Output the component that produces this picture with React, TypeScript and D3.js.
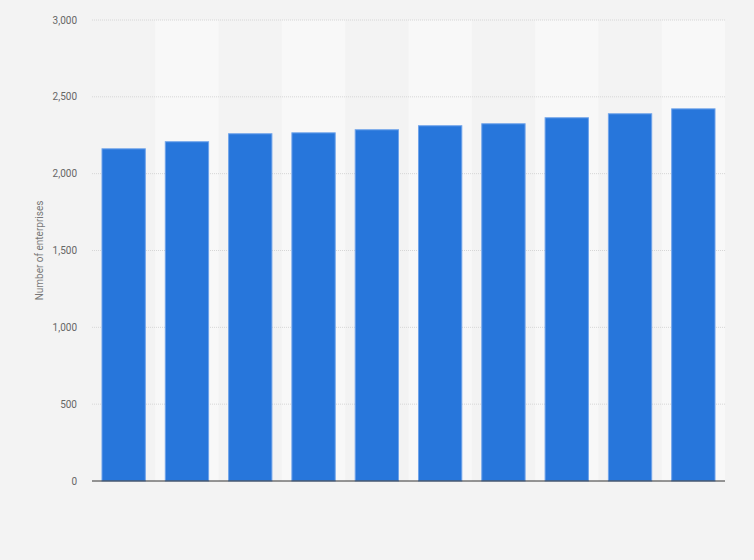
import { useEffect, useRef } from "react";
import * as d3 from "d3";

const WIDTH = 754;
const HEIGHT = 560;
const MARGIN = { top: 20, right: 29, bottom: 79, left: 92 };

// Number of enterprises per year (years not labelled in the source)
const years = ["2011", "2012", "2013", "2014", "2015", "2016", "2017", "2018", "2019", "2020"];
const enterprises = [2165, 2211, 2263, 2269, 2289, 2315, 2328, 2367, 2393, 2425];
const yTicks = [0, 500, 1000, 1500, 2000, 2500, 3000];

export default function App() {
  const svgRef = useRef<SVGSVGElement>(null);

  useEffect(() => {
    const svgEl = svgRef.current;
    if (!svgEl) return;

    const x = d3
      .scaleBand<string>()
      .domain(years)
      .range([MARGIN.left, WIDTH - MARGIN.right])
      .paddingInner(0.3)
      .paddingOuter(0.15);

    const band = d3
      .scaleBand<string>()
      .domain(years)
      .range([MARGIN.left, WIDTH - MARGIN.right]);

    const y = d3
      .scaleLinear()
      .domain([0, 3000])
      .range([HEIGHT - MARGIN.bottom, MARGIN.top]);

    const svg = d3.select(svgEl);
    svg.selectAll("*").remove();

    svg
      .append("rect")
      .attr("width", WIDTH)
      .attr("height", HEIGHT)
      .attr("fill", "#f3f3f3");

    // Alternating column shading
    svg
      .append("g")
      .selectAll("rect")
      .data(years.filter((_, i) => i % 2 === 1))
      .enter()
      .append("rect")
      .attr("x", (d) => band(d)!)
      .attr("y", y(3000))
      .attr("width", band.bandwidth())
      .attr("height", y(0) - y(3000))
      .attr("fill", "#f8f8f8");

    // Dotted gridlines
    svg
      .append("g")
      .selectAll("line")
      .data(yTicks.slice(1))
      .enter()
      .append("line")
      .attr("x1", MARGIN.left)
      .attr("x2", WIDTH - MARGIN.right)
      .attr("y1", (d) => y(d))
      .attr("y2", (d) => y(d))
      .attr("stroke", "#d6d6d6")
      .attr("stroke-width", 1)
      .attr("stroke-dasharray", "1 1");

    // Tick labels
    svg
      .append("g")
      .selectAll("text")
      .data(yTicks)
      .enter()
      .append("text")
      .attr("x", MARGIN.left - 15)
      .attr("y", (d) => y(d))
      .attr("dy", "0.35em")
      .attr("text-anchor", "end")
      .attr("fill", "#666")
      .attr("font-family", "Roboto, 'Liberation Sans', Arial, sans-serif")
      .attr("font-size", 10)
      .text((d) => d3.format(",")(d));

    // Bars
    svg
      .append("g")
      .selectAll("rect")
      .data(enterprises)
      .enter()
      .append("rect")
      .attr("x", (_, i) => x(years[i])! + 0.5)
      .attr("y", (d) => y(d) + 0.5)
      .attr("width", x.bandwidth() - 1)
      .attr("height", (d) => y(0) - y(d) - 0.5)
      .attr("fill", "#2776db")
      .attr("stroke", "#6fa3ea")
      .attr("stroke-width", 1);

    // Baseline
    svg
      .append("line")
      .attr("x1", MARGIN.left)
      .attr("x2", WIDTH - MARGIN.right)
      .attr("y1", y(0))
      .attr("y2", y(0))
      .attr("stroke", "#333")
      .attr("stroke-width", 1.2);

    // Axis title
    svg
      .append("text")
      .attr("transform", `translate(43, ${(y(0) + y(3000)) / 2}) rotate(-90)`)
      .attr("text-anchor", "middle")
      .attr("fill", "#777")
      .attr("font-family", "Roboto, 'Liberation Sans', Arial, sans-serif")
      .attr("font-size", 10)
      .text("Number of enterprises");
  }, []);

  return (
    <div style={{ position: "fixed", left: 0, top: 0 }}>
      <svg ref={svgRef} width={WIDTH} height={HEIGHT} style={{ display: "block" }} />
    </div>
  );
}
